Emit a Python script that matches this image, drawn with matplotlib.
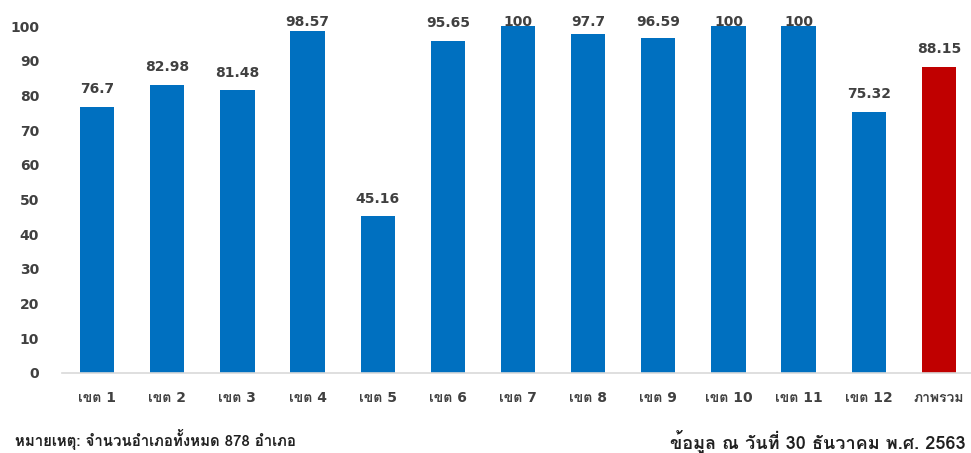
import matplotlib
matplotlib.use('Agg')
import matplotlib.pyplot as plt

# digits/latin in DejaVu (verdana-like), thai falls through to Loma
plt.rcParams['font.family'] = ['DejaVu Sans', 'Loma', 'Noto Sans Thai Looped']
thai_font = ['Loma', 'Noto Sans Thai Looped', 'DejaVu Sans']

labels = ['เขต 1', 'เขต 2', 'เขต 3', 'เขต 4', 'เขต 5', 'เขต 6', 'เขต 7',
          'เขต 8', 'เขต 9', 'เขต 10', 'เขต 11', 'เขต 12', 'ภาพรวม']
values = [76.7, 82.98, 81.48, 98.57, 45.16, 95.65, 100,
          97.7, 96.59, 100, 100, 75.32, 88.15]
value_text = ['76.7', '82.98', '81.48', '98.57', '45.16', '95.65', '100',
              '97.7', '96.59', '100', '100', '75.32', '88.15']
colors = ['#0070C0'] * 12 + ['#C00000']

fig = plt.figure(figsize=(9.71, 4.53), dpi=100)
ax = fig.add_axes([62 / 971, 80 / 453, 912 / 971, 347 / 453])

x = range(len(values))
ax.bar(x, values, width=0.49, color=colors)
for i, v in enumerate(values):
    # labels sit above the bar but get pushed down near the top edge
    ax.text(i, min(v + 5.1, 101.2), value_text[i], ha='center', va='center',
            fontsize=10, fontweight='bold', color='#404040', clip_on=False)

ax.set_xlim(-0.5, len(values) - 0.5)
ax.set_ylim(0, 100)
ax.set_yticks(range(0, 101, 10))
ax.set_xticks(list(x))
ax.set_xticklabels(labels)
for s in ['top', 'right', 'left']:
    ax.spines[s].set_visible(False)
ax.spines['bottom'].set_color('#d9d9d9')
ax.spines['bottom'].set_linewidth(1.2)
ax.tick_params(axis='both', length=0, labelsize=10, labelcolor='#404040')
ax.tick_params(axis='y', pad=16.5)
ax.tick_params(axis='x', pad=13)
for t in ax.get_xticklabels() + ax.get_yticklabels():
    t.set_fontweight('bold')

fig.text(15 / 971, 1 - 439 / 453, 'หมายเหตุ: จำนวนอำเภอทั้งหมด 878 อำเภอ',
         fontsize=10.8, fontweight='bold', color='#202020', va='center',
         family=thai_font)
fig.text(966 / 971, 1 - 441 / 453, 'ข้อมูล ณ วันที่ 30 ธันวาคม พ.ศ. 2563',
         fontsize=13, fontweight='bold', color='#202020', va='center',
         ha='right', family=thai_font)

fig.savefig('out.png')
